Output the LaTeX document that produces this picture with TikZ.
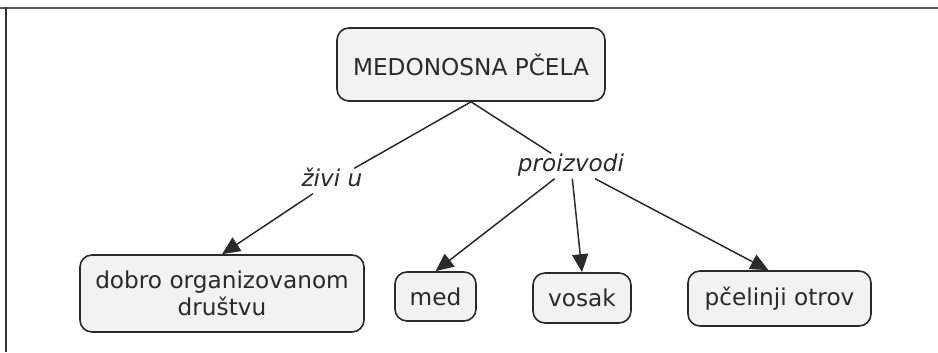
\documentclass[tikz,border=0pt]{standalone}
\usepackage{fontspec}
\setmainfont{DejaVu Sans}
\usetikzlibrary{arrows.meta}
\definecolor{boxfill}{HTML}{F2F2F2}
\definecolor{ink}{HTML}{2A2A2A}
\begin{document}
\begin{tikzpicture}[x=1bp,y=-1bp,
  concept/.style={draw=ink, line width=1.6bp, fill=boxfill, rounded corners=12bp,
    inner sep=0pt, align=center, text=ink,
    font=\fontsize{23.2bp}{27bp}\selectfont},
  linkword/.style={inner sep=2bp, text height=16bp, text depth=5bp, text=ink,
    font=\fontsize{23.2bp}{27bp}\selectfont\itshape},
  link/.style={draw=ink, line width=1.5bp},
  arrowlink/.style={link, -{Triangle[length=18bp,width=16bp]}}]
\useasboundingbox (0,0) rectangle (938,352);
% frame lines along the top and the left edge
\draw[line width=2.3bp, color=black!65] (0,7.8) -- (938,7.8);
\draw[line width=1.5bp, color=black!80] (6,7) -- (6,352);

% concepts
\node[concept, minimum width=268bp, minimum height=73bp] (bee) at (471,64.5) {MEDONOSNA PČELA};
\node[concept, minimum width=284bp, minimum height=77bp] (society) at (222,293.5) {dobro organizovanom\\društvu};
\node[concept, minimum width=81bp, minimum height=49bp] (honey) at (435.5,296.5) {med};
\node[concept, minimum width=98bp, minimum height=50bp] (wax) at (582,298) {vosak};
\node[concept, minimum width=183bp, minimum height=55bp] (venom) at (779.5,298.5) {pčelinji otrov};

% linking phrases
\node[linkword] (lives) at (332,181) {živi u};
\node[linkword] (makes) at (571,166) {proizvodi};

% connections
\draw[link] (bee.south) -- (lives);
\draw[link] (bee.south) -- (makes);
\draw[arrowlink] (lives) -- (society.north);
\draw[arrowlink] (makes) -- (honey.north);
\draw[arrowlink] (makes) -- (wax.north);
\draw[arrowlink] (makes) -- ([xshift=-11bp]venom.north);
\end{tikzpicture}
\end{document}
